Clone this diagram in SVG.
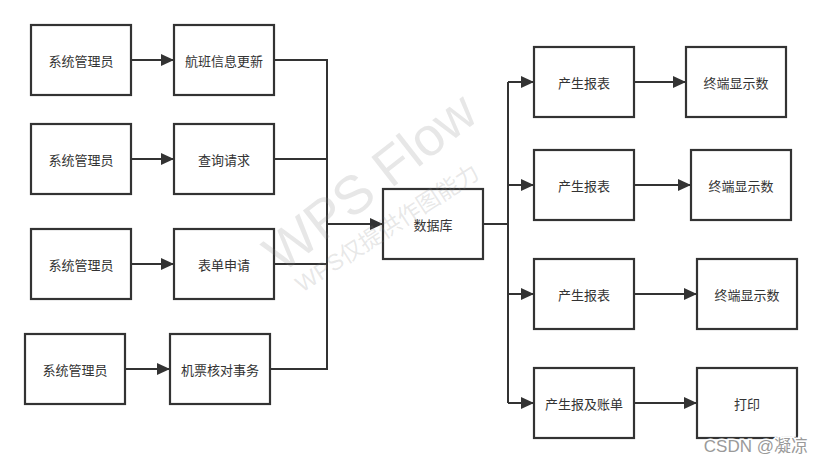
<svg xmlns="http://www.w3.org/2000/svg" width="822" height="463" viewBox="0 0 822 463">
<style>
.box{fill:#fff;stroke:#333;stroke-width:2.2}
.t{font-family:"Noto Sans CJK SC","Liberation Sans",sans-serif;font-size:13px;fill:#333;text-anchor:middle;dominant-baseline:central}
.c{fill:none;stroke:#333;stroke-width:2}
.a{fill:none;stroke:#333;stroke-width:2;marker-end:url(#ah)}
.wm{font-family:"Liberation Sans","Noto Sans CJK SC",sans-serif;fill:#888;fill-opacity:0.2}
</style>
<defs>
<marker id="ah" markerWidth="14" markerHeight="12" refX="13" refY="6" orient="auto" markerUnits="userSpaceOnUse">
<path d="M0,0 L13,6 L0,12 Z" fill="#333"/>
</marker>
</defs>
<rect width="822" height="463" fill="#fff"/>
<g id="connectors">
<line class="a" x1="131" y1="60" x2="174" y2="60"/>
<line class="a" x1="131" y1="159" x2="174" y2="159"/>
<line class="a" x1="131" y1="264" x2="174" y2="264"/>
<line class="a" x1="125" y1="369" x2="170" y2="369"/>
<polyline class="c" points="274,60 327,60 327,369 270,369"/>
<line class="c" x1="274" y1="159" x2="327" y2="159"/>
<line class="c" x1="274" y1="264" x2="327" y2="264"/>
<line class="a" x1="327" y1="224" x2="383" y2="224"/>
<line class="c" x1="483" y1="224" x2="508" y2="224"/>
<line class="c" x1="508" y1="82" x2="508" y2="403"/>
<line class="a" x1="508" y1="82" x2="534" y2="82"/>
<line class="a" x1="508" y1="185" x2="534" y2="185"/>
<line class="a" x1="508" y1="294" x2="534" y2="294"/>
<line class="a" x1="508" y1="403" x2="534" y2="403"/>
<line class="a" x1="634" y1="82" x2="686" y2="82"/>
<line class="a" x1="634" y1="185" x2="691" y2="185"/>
<line class="a" x1="634" y1="294" x2="697" y2="294"/>
<line class="a" x1="634" y1="403" x2="697" y2="403"/>
</g>
<g id="admin1"><rect class="box" x="31" y="25" width="100" height="70"/><text class="t" x="81" y="60">系统管理员</text></g>
<g id="admin2"><rect class="box" x="31" y="124" width="100" height="70"/><text class="t" x="81" y="159">系统管理员</text></g>
<g id="admin3"><rect class="box" x="31" y="229" width="100" height="70"/><text class="t" x="81" y="264">系统管理员</text></g>
<g id="admin4"><rect class="box" x="25" y="334" width="100" height="70"/><text class="t" x="75" y="369">系统管理员</text></g>
<g id="flightUpdate"><rect class="box" x="174" y="25" width="100" height="70"/><text class="t" x="224" y="60">航班信息更新</text></g>
<g id="query"><rect class="box" x="174" y="124" width="100" height="70"/><text class="t" x="224" y="159">查询请求</text></g>
<g id="formApply"><rect class="box" x="174" y="229" width="100" height="70"/><text class="t" x="224" y="264">表单申请</text></g>
<g id="ticketCheck"><rect class="box" x="170" y="334" width="100" height="70"/><text class="t" x="220" y="369">机票核对事务</text></g>
<g id="database"><rect class="box" x="383" y="189" width="100" height="70"/><text class="t" x="433" y="224">数据库</text></g>
<g id="report1"><rect class="box" x="534" y="47" width="100" height="70"/><text class="t" x="584" y="82">产生报表</text></g>
<g id="report2"><rect class="box" x="534" y="150" width="100" height="70"/><text class="t" x="584" y="185">产生报表</text></g>
<g id="report3"><rect class="box" x="534" y="259" width="100" height="70"/><text class="t" x="584" y="294">产生报表</text></g>
<g id="reportBill"><rect class="box" x="534" y="368" width="100" height="70"/><text class="t" x="584" y="403">产生报及账单</text></g>
<g id="terminal1"><rect class="box" x="686" y="47" width="100" height="70"/><text class="t" x="736" y="82">终端显示数</text></g>
<g id="terminal2"><rect class="box" x="691" y="150" width="100" height="70"/><text class="t" x="741" y="185">终端显示数</text></g>
<g id="terminal3"><rect class="box" x="697" y="259" width="100" height="70"/><text class="t" x="747" y="294">终端显示数</text></g>
<g id="print"><rect class="box" x="697" y="368" width="100" height="70"/><text class="t" x="747" y="403">打印</text></g>
<g id="watermark">
<text class="wm" font-size="54" transform="translate(282,274) rotate(-38)">WPS Flow</text>
<text class="wm" font-size="23" transform="translate(302,293) rotate(-33)">WPS仅提供作图能力</text>
</g>
<text x="808" y="452" text-anchor="end" font-family="Liberation Sans,'Noto Sans CJK SC',sans-serif" font-size="17" fill="#9a9a9a" stroke="#fff" stroke-width="3" paint-order="stroke">CSDN @凝凉</text>
</svg>
